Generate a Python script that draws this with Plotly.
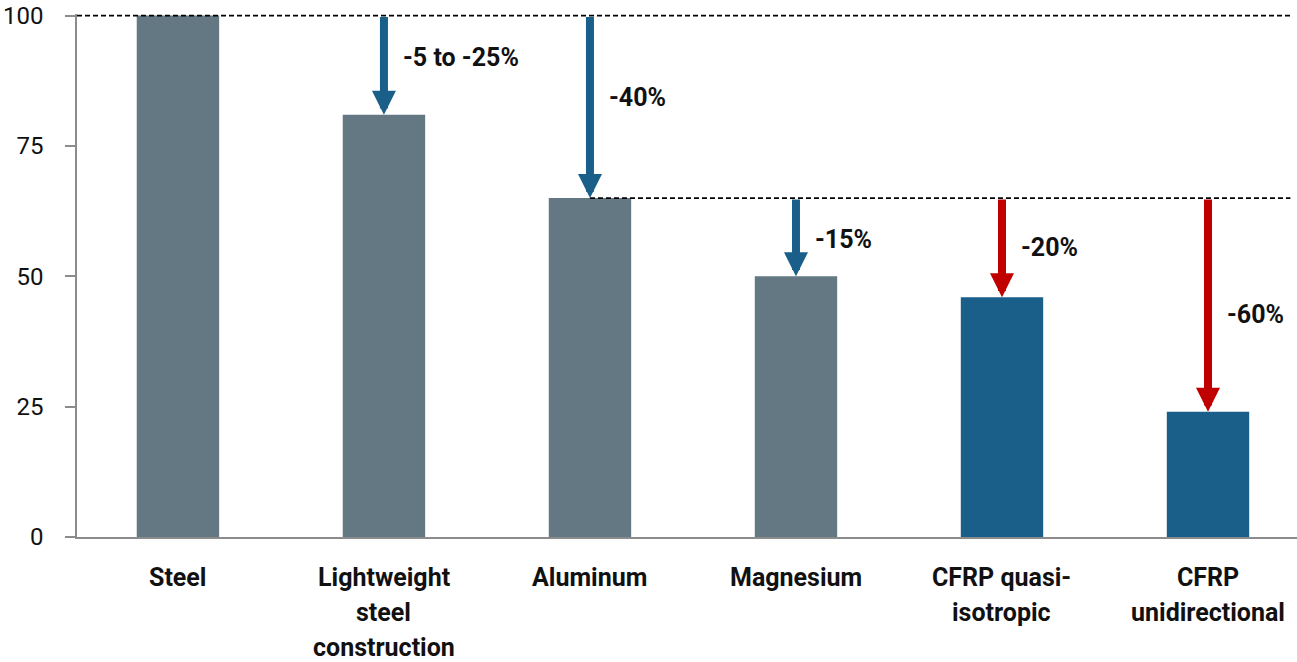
import plotly.graph_objects as go

# Relative component weight by material (steel = 100)
materials = ["Steel", "Lightweight steel construction", "Aluminum", "Magnesium",
             "CFRP quasi-isotropic", "CFRP unidirectional"]
label_lines = [["Steel"], ["Lightweight", "steel", "construction"], ["Aluminum"],
               ["Magnesium"], ["CFRP quasi-", "isotropic"], ["CFRP", "unidirectional"]]
weights = [100, 81, 65, 50, 46, 24]
bar_colors = ["#637882", "#637882", "#637882", "#637882", "#1a5f8a", "#1a5f8a"]

# Weight-reduction arrows: category index, starting level, label, label level, colour
arrow_idx = [1, 2, 3, 4, 5]
arrow_from = [100, 100, 65, 65, 65]
arrow_text = ["-5 to -25%", "-40%", "-15%", "-20%", "-60%"]
arrow_label_at = [92, 84.3, 57, 55.5, 42.6]
arrow_color = ["#1a5f8a", "#1a5f8a", "#1a5f8a", "#c00000", "#c00000"]

# Dashed reference levels: (level, starting category index)
ref_levels = [100, 65]
ref_start = [-0.49, 2]

y_ticks = [0, 25, 50, 75, 100]

FONT = "Roboto"
x_pos = list(range(len(materials)))

fig = go.Figure()
fig.add_trace(go.Bar(
    x=x_pos, y=weights, marker=dict(color=bar_colors, line=dict(width=0)),
    width=0.4, hoverinfo="skip", showlegend=False,
))

# dashed reference lines
for lvl, start in zip(ref_levels, ref_start):
    fig.add_shape(type="line", xref="x", yref="y", x0=start, x1=5.4, y0=lvl, y1=lvl,
                  line=dict(color="#000000", width=1.7, dash="5px,3px"), layer="above")

annotations = []
for i, start, txt, lab_y, col in zip(arrow_idx, arrow_from, arrow_text,
                                      arrow_label_at, arrow_color):
    end = weights[i]
    annotations.append(dict(
        x=i, y=end, ax=i, ay=start, xref="x", yref="y", axref="x", ayref="y",
        text="", showarrow=True, arrowhead=2, arrowsize=0.6, arrowwidth=8,
        arrowcolor=col, standoff=0,
    ))
    annotations.append(dict(
        x=i, y=lab_y, xref="x", yref="y", text=f"<b>{txt}</b>",
        showarrow=False, xanchor="left", yanchor="middle", xshift=17,
        font=dict(family=FONT, size=25, color="#111111"),
    ))

# category labels below the axis, one annotation per line
for i, lines in enumerate(label_lines):
    for j, line in enumerate(lines):
        annotations.append(dict(
            x=i, y=0, xref="x", yref="y", text=f"<b>{line}</b>", showarrow=False,
            xanchor="center", yanchor="middle", yshift=-(40 + 35 * j),
            font=dict(family=FONT, size=25, color="#111111"),
        ))

fig.update_layout(
    width=1297, height=662,
    margin=dict(l=77, r=0, t=14, b=125, pad=0),
    paper_bgcolor="white", plot_bgcolor="white",
    annotations=annotations,
    bargap=0.6,
    xaxis=dict(
        range=[-0.49, 5.432], showticklabels=False, ticks="", showgrid=False,
        zeroline=False, showline=True, linecolor="#8c8c8c", linewidth=1.5,
        fixedrange=True,
    ),
    yaxis=dict(
        range=[0, 100.3], tickvals=y_ticks, ticktext=[str(v) for v in y_ticks],
        ticks="outside", ticklen=10, tickcolor="#8c8c8c", tickwidth=1.5,
        showline=True, linecolor="#8c8c8c", linewidth=1.5, showgrid=False,
        zeroline=False, ticklabelstandoff=17,
        tickfont=dict(family=FONT, size=24, color="#111111"), fixedrange=True,
    ),
)

fig.write_html("out.html", config={"displayModeBar": False})
